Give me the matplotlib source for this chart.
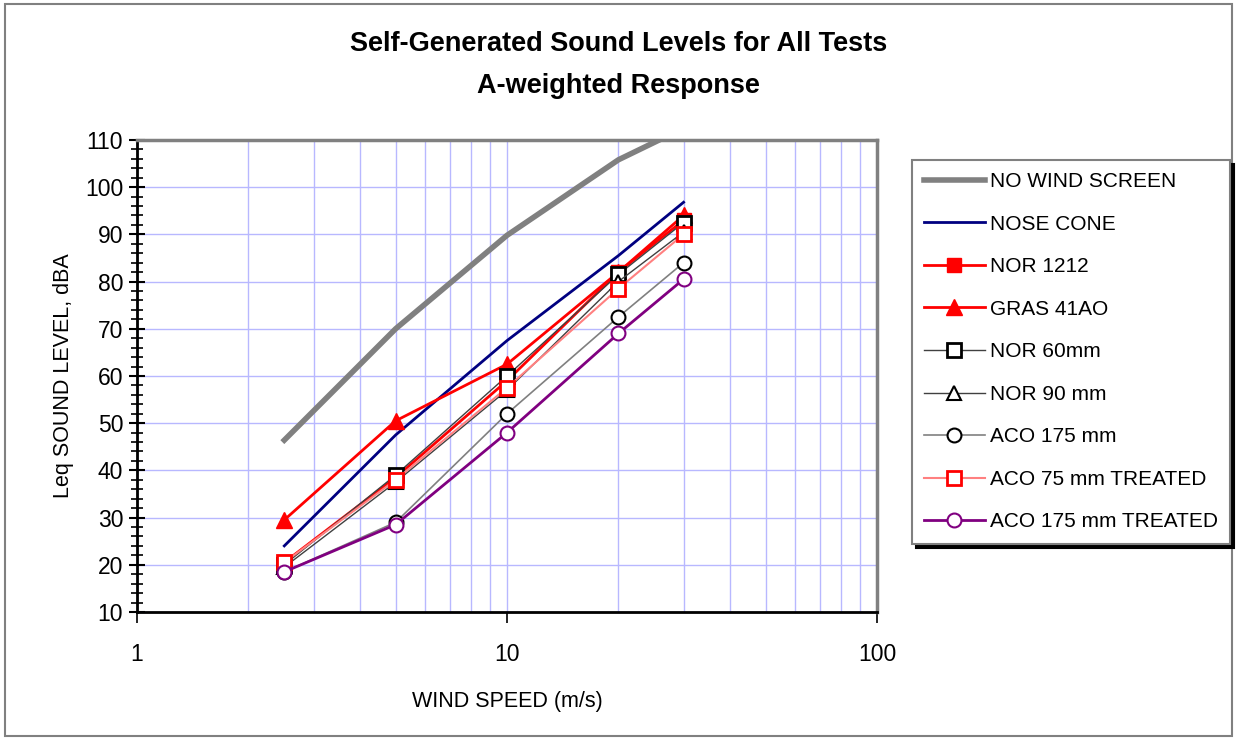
import matplotlib
matplotlib.use("Agg")
import matplotlib.pyplot as plt
from matplotlib import font_manager
from matplotlib.ticker import FixedLocator, NullFormatter, MultipleLocator

names = {f.name for f in font_manager.fontManager.ttflist}
narrow = 'Liberation Sans Narrow' if 'Liberation Sans Narrow' in names else 'Liberation Sans'
plt.rcParams['font.family'] = ['Liberation Sans', 'DejaVu Sans']

wind_speed = [2.5, 5, 10, 20, 30]
no_wind_screen = [46.4, 70.0, 89.8, 105.8, 112.5]
nose_cone = [24.0, 47.5, 67.5, 85.5, 96.8]
nor_1212 = [20.5, 38.5, 59.0, 82.0, 93.0]
gras_41ao = [29.5, 50.5, 62.5, 82.0, 94.0]
nor_60mm = [20.0, 39.0, 60.0, 81.5, 92.5]
nor_90mm = [19.5, 37.5, 57.0, 80.0, 90.5]
aco_175 = [18.5, 29.0, 52.0, 72.5, 84.0]
aco_75_treated = [20.5, 38.0, 57.5, 78.5, 90.0]
aco_175_treated = [18.5, 28.5, 48.0, 69.0, 80.5]

fig = plt.figure(figsize=(12.37, 7.39), dpi=100)
ax = fig.add_axes([0.1108, 0.1719, 0.5982, 0.6387])

grid_c = '#b8b8ff'
ax.plot(wind_speed, no_wind_screen, color='#808080', lw=4, label='NO WIND SCREEN', zorder=3)
ax.plot(wind_speed, nose_cone, color='#000080', lw=2, label='NOSE CONE', zorder=3)
ax.plot(wind_speed, nor_1212, color='#ff0000', lw=2, marker='s', ms=10, mfc='#ff0000', mec='#ff0000', label='NOR 1212', zorder=4)
ax.plot(wind_speed, gras_41ao, color='#ff0000', lw=2, marker='^', ms=11, mfc='#ff0000', mec='#ff0000', label='GRAS 41AO', zorder=4)
ax.plot(wind_speed, nor_60mm, color='#404040', lw=1, marker='s', ms=10, mfc='white', mec='black', mew=2, label='NOR 60mm', zorder=4)
ax.plot(wind_speed, nor_90mm, color='#404040', lw=1, marker='^', ms=10, mfc='white', mec='black', mew=1.5, label='NOR 90 mm', zorder=4)
ax.plot(wind_speed, aco_175, color='#808080', lw=1.2, marker='o', ms=10, mfc='white', mec='black', mew=1.5, label='ACO 175 mm', zorder=4)
ax.plot(wind_speed, aco_75_treated, color='#ff8080', lw=1.5, marker='s', ms=10, mfc='white', mec='#ff0000', mew=2, label='ACO 75 mm TREATED', zorder=4)
ax.plot(wind_speed, aco_175_treated, color='#800080', lw=2, marker='o', ms=10, mfc='white', mec='#800080', mew=1.5, label='ACO 175 mm TREATED', zorder=4)

ax.set_xscale('log')
ax.set_xlim(1, 100)
ax.set_ylim(10, 110)
ax.xaxis.set_major_locator(FixedLocator([1, 10, 100]))
ax.xaxis.set_major_formatter(matplotlib.ticker.FixedFormatter(['1', '10', '100']))
ax.xaxis.set_minor_locator(FixedLocator([2, 3, 4, 5, 6, 7, 8, 9, 20, 30, 40, 50, 60, 70, 80, 90]))
ax.xaxis.set_minor_formatter(NullFormatter())
ax.yaxis.set_major_locator(MultipleLocator(10))
ax.yaxis.set_minor_locator(MultipleLocator(2))
ax.grid(True, which='major', color=grid_c, lw=1, zorder=0)
ax.grid(True, which='minor', axis='x', color=grid_c, lw=1, zorder=0)
ax.set_axisbelow(True)

ax.tick_params(axis='y', which='major', direction='inout', length=12, width=1.5, labelsize=16.5, pad=4)
ax.tick_params(axis='y', which='minor', direction='inout', length=8, width=1.2)
ax.tick_params(axis='x', which='major', direction='out', length=8, width=1.2, labelsize=16.5, pad=14)
ax.tick_params(axis='x', which='minor', length=0)
for s in ['left', 'bottom']:
    ax.spines[s].set_color('black')
    ax.spines[s].set_linewidth(2)
for s in ['top', 'right']:
    ax.spines[s].set_color('#808080')
    ax.spines[s].set_linewidth(2.5)

ax.set_xlabel('WIND SPEED (m/s)', fontsize=15.5, labelpad=18)
ax.set_ylabel('Leq SOUND LEVEL, dBA', fontsize=15.5, labelpad=8)

fig.text(0.5, 0.941, 'Self-Generated Sound Levels for All Tests', ha='center', va='center',
         fontsize=19.5, fontweight='bold', family=[narrow, 'DejaVu Sans'])
fig.text(0.5, 0.884, 'A-weighted Response', ha='center', va='center',
         fontsize=19.5, fontweight='bold', family=[narrow, 'DejaVu Sans'])

leg = fig.legend(loc='upper left', bbox_to_anchor=(0.737, 0.784), fontsize=15,
                 frameon=True, fancybox=False, shadow={'color': 'black', 'alpha': 1, 'ox': 3, 'oy': -3},
                 edgecolor='#808080', handlelength=2.9, labelspacing=1.13,
                 borderpad=0.6, handletextpad=0.25, borderaxespad=0.0)
leg.get_frame().set_linewidth(1.5)

fig.patches.append(matplotlib.patches.Rectangle((0.004, 0.004), 0.992, 0.99, transform=fig.transFigure,
                                                fill=False, edgecolor='#808080', lw=1.5))
fig.savefig('out.png', dpi=100)
